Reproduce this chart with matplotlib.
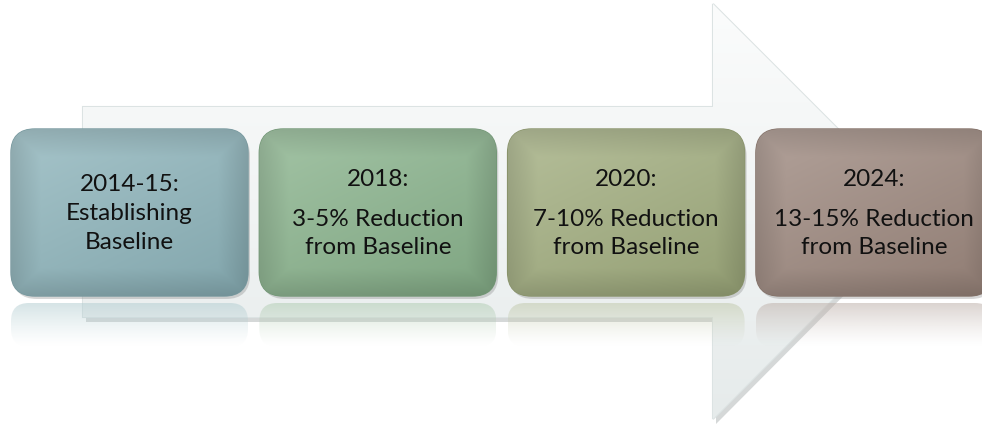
import numpy as np
import matplotlib
matplotlib.use("Agg")
import matplotlib.pyplot as plt
from matplotlib.patches import FancyBboxPatch, Polygon
from matplotlib.colors import to_rgb

plt.rcParams["font.family"] = ["Lato", "DejaVu Sans"]

years = ["2014-15:", "2018:", "2020:", "2024:"]
details = [["Establishing", "Baseline"],
           ["3-5% Reduction", "from Baseline"],
           ["7-10% Reduction", "from Baseline"],
           ["13-15% Reduction", "from Baseline"]]
box_colors = ["#8db4bb", "#89b38c", "#a1ad7e", "#9c877d"]

W, H = 982, 427
fig = plt.figure(figsize=(W / 100, H / 100), dpi=100)
ax = fig.add_axes([0, 0, 1, 1])
ax.set_xlim(0, W)
ax.set_ylim(H, 0)
ax.axis("off")


def shade(c, f):
    r = np.array(to_rgb(c))
    if f >= 0:
        return r + (1 - r) * f
    return r * (1 + f)


# big background arrow
arrow_pts = [(83, 108), (713, 108), (713, 5), (920, 212), (713, 420),
             (713, 318), (83, 318)]
shadow = Polygon([(x + 3, y + 5) for x, y in arrow_pts], closed=True,
                 facecolor="#c4c8c8", edgecolor="none", alpha=0.7, zorder=1)
ax.add_patch(shadow)
arrow = Polygon(arrow_pts, closed=True, facecolor="#f2f5f5",
                edgecolor="#dce3e3", linewidth=1.5, zorder=2)
ax.add_patch(arrow)
grad = np.linspace(0, 1, 256).reshape(-1, 1)
top = np.array(to_rgb("#fbfcfc"))
bot = np.array(to_rgb("#e6ebeb"))
img = top + (bot - top) * grad[..., None]
im = ax.imshow(img, extent=(83, 920, 420, 5), aspect="auto", zorder=2.5)
im.set_clip_path(arrow)

# boxes
x0, bw, step = 11, 237, 248.3
by, bh = 130, 167
for i, (yr, det, col) in enumerate(zip(years, details, box_colors)):
    bx = x0 + i * step
    # reflection
    rh = 44
    ry = by + bh + 7
    refl = FancyBboxPatch((bx, ry), bw, rh,
                          boxstyle="round,pad=0,rounding_size=18",
                          facecolor="none", edgecolor="none", zorder=3)
    ax.add_patch(refl)
    g = np.linspace(0, 1, 64).reshape(-1, 1)
    c = shade(col, 0.35)
    rimg = np.zeros((64, 1, 4))
    rimg[..., :3] = c
    rimg[..., 3] = 0.55 * (1 - g) ** 1.3
    rim = ax.imshow(rimg, extent=(bx, bx + bw, ry + rh, ry),
                    aspect="auto", zorder=3)
    rim.set_clip_path(refl)

    # drop shadow
    sh = FancyBboxPatch((bx + 2, by + 3), bw, bh,
                        boxstyle="round,pad=0,rounding_size=24",
                        facecolor="#8a8a8a", edgecolor="none", alpha=0.35,
                        zorder=3.5)
    ax.add_patch(sh)
    box = FancyBboxPatch((bx, by), bw, bh,
                         boxstyle="round,pad=0,rounding_size=24",
                         facecolor=col, edgecolor=shade(col, -0.15),
                         linewidth=1.0, zorder=4)
    ax.add_patch(box)
    gy = np.linspace(0, 1, 200).reshape(-1, 1)
    gx = np.linspace(0, 1, 200).reshape(1, -1)
    light = shade(col, 0.22)
    dark = shade(col, -0.08)
    t = np.clip(0.6 * gy + 0.4 * gx, 0, 1)[..., None]
    bimg = light + (dark - light) * t
    # soft darker rim near edges
    edge = np.minimum(np.minimum(gx, 1 - gx) * 8, np.minimum(gy, 1 - gy) * 6)
    edge = np.clip(edge, 0, 1)[..., None]
    bimg = bimg * (0.88 + 0.12 * edge)
    bim = ax.imshow(np.clip(bimg, 0, 1), extent=(bx, bx + bw, by + bh, by),
                    aspect="auto", zorder=4.5)
    bim.set_clip_path(box)

    cx = bx + bw / 2
    if i == 0:
        ys = [185, 214, 243]
    else:
        ys = [180, 220, 248]
    for yy, s in zip(ys, [yr] + det):
        ax.text(cx, yy, s, ha="center", va="center", fontsize=17.5,
                color="#111111", zorder=6)

fig.savefig("out.png", dpi=100, facecolor="white")
